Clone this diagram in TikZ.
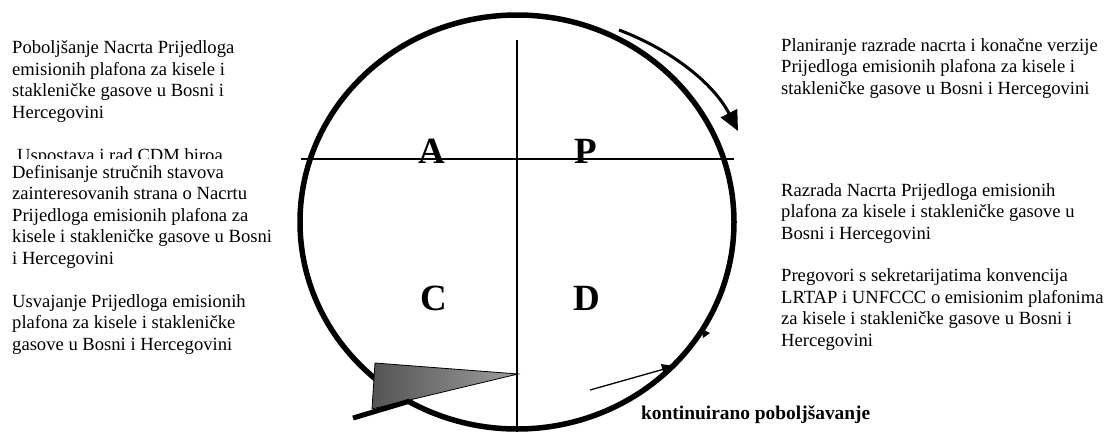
\documentclass[tikz,border=0pt]{standalone}
\usepackage{fontspec}
\setmainfont{Liberation Serif}
\usetikzlibrary{arrows.meta}
\definecolor{WedgeDark}{gray}{0.33}
\definecolor{WedgeLight}{gray}{0.62}
\newcommand{\notefont}{\fontsize{18.6}{21.4}\selectfont}

\begin{document}
\begin{tikzpicture}[x=1pt, y=-1pt,
  note/.style={anchor=base west, align=left, inner sep=0pt, font=\notefont},
  letter/.style={anchor=base, inner sep=0pt, font=\fontsize{37}{40}\selectfont\bfseries}]
  \useasboundingbox (0,0) rectangle (1108,432);

  % Cycle
  \draw[line width=5.5pt] (517,222) ellipse [x radius=217, y radius=207];
  \fill (702,329) -- (710,333) -- (703,338) -- cycle;

  % Quadrant lines
  \draw[line width=1.3pt] (517,40) -- (517,432);
  \draw[line width=1.3pt] (301,159) -- (734,159);

  % Quadrant letters
  \node[letter] (lA) at (432,163) {A};
  \node[letter] (lP) at (586,163) {P};
  \node[letter] (lC) at (434,310) {C};
  \node[letter] (lD) at (587,310) {D};

  % Rotation arrow
  \coordinate (rotStart) at (619,30);
  \coordinate (rotEnd) at (738,131);
  \draw[line width=3pt, -{Triangle[length=20pt,width=18pt]}] (rotStart) .. controls (672,50) and (714,84) .. (rotEnd);

  % Wedge against rolling back
  \shade[left color=WedgeDark, right color=WedgeLight, draw=black, line width=0.8pt]
    (375,363) -- (518,374) -- (372,409) -- cycle;
  \draw[line width=5pt] (353,418) -- (410,401);

  % Improvement arrow
  \coordinate (impStart) at (590,390);
  \coordinate (impEnd) at (675,366);
  \draw[line width=1.3pt, -{Triangle[length=13pt,width=11pt]}] (impStart) -- (impEnd);
  \node[anchor=base west, inner sep=0pt, font=\fontsize{19.4}{22}\selectfont\bfseries] (impText) at (641,419) {kontinuirano poboljšavanje};

  % Left notes (anchored at the last line)
  \node[note] (noteAct) at (12,118) {Poboljšanje Nacrta Prijedloga\\emisionih plafona za kisele i\\stakleničke gasove u Bosni i\\Hercegovini};
  \begin{scope}
    \clip (0,0) rectangle (300,158);
    \node[note] (noteCdm) at (17,161) {Uspostava i rad CDM biroa};
  \end{scope}
  \node[note] (noteCheck) at (12,264) {Definisanje stručnih stavova\\zainteresovanih strana o Nacrtu\\Prijedloga emisionih plafona za\\kisele i stakleničke gasove u Bosni\\i Hercegovini};
  \node[note] (noteAdopt) at (12,350) {Usvajanje Prijedloga emisionih\\plafona za kisele i stakleničke\\gasove u Bosni i Hercegovini};

  % Right notes
  \node[note] (notePlan) at (781,94) {Planiranje razrade nacrta i konačne verzije\\Prijedloga emisionih plafona za kisele i\\stakleničke gasove u Bosni i Hercegovini};
  \node[note] (noteDo) at (781,239) {Razrada Nacrta Prijedloga emisionih\\plafona za kisele i stakleničke gasove u\\Bosni i Hercegovini};
  \node[note] (noteTalk) at (781,346) {Pregovori s sekretarijatima konvencija\\LRTAP i UNFCCC o emisionim plafonima\\za kisele i stakleničke gasove u Bosni i\\Hercegovini};
\end{tikzpicture}
\end{document}
